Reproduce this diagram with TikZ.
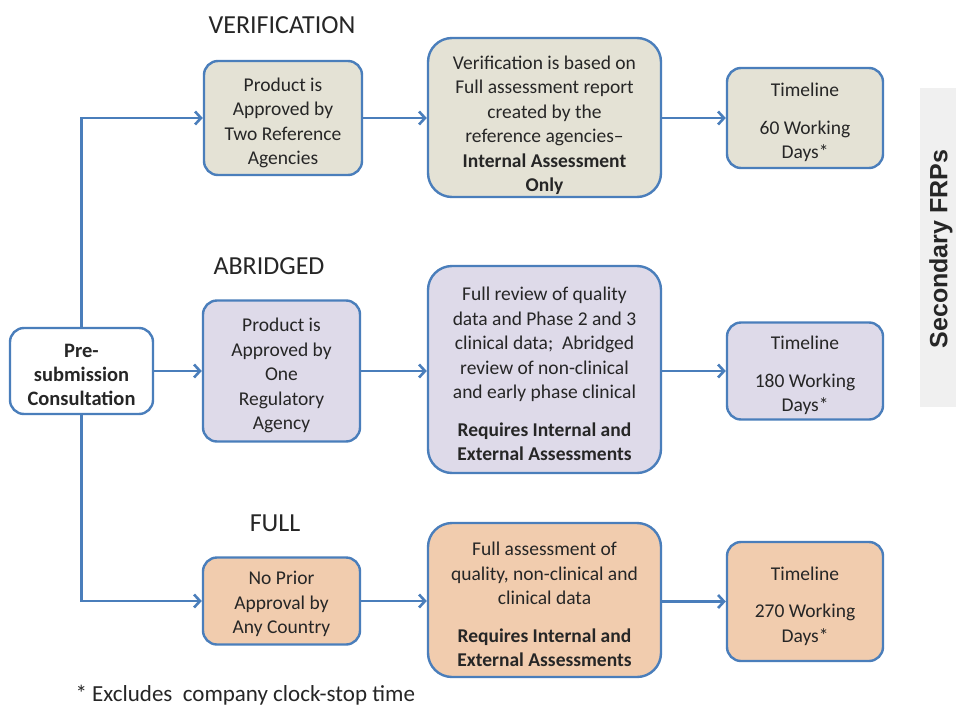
\documentclass[tikz,border=0pt]{standalone}
\usepackage{fontspec}
\setmainfont{Carlito}
\newfontfamily\arialfont{Liberation Sans}
\usetikzlibrary{arrows.meta}
\definecolor{edgeblue}{HTML}{4A7EBB}
\definecolor{txt}{HTML}{262626}
\definecolor{fillver}{HTML}{E4E2D5}
\definecolor{fillabr}{HTML}{DEDAE9}
\definecolor{fillful}{HTML}{F1CCAE}
\definecolor{bandgray}{HTML}{F0F0F0}
\newcommand{\dn}[1]{\rule{0pt}{#1}}
\tikzset{
  x=1pt, y=-1pt,
  boxbase/.style={draw=edgeblue, line width=2.4pt, align=center, text=txt,
    font=\fontsize{19.5}{24.5}\selectfont, inner sep=1pt},
  smallbox/.style={boxbase, rounded corners=14pt},
  bigbox/.style={boxbase, rounded corners=24pt},
  headlbl/.style={text=txt, font=\fontsize{26}{28}\selectfont},
  conn/.style={draw=edgeblue, line width=2.6pt},
  arr/.style={conn, -{Straight Barb[length=6pt,width=13pt,line width=2.6pt]}}
}
\begin{document}
\begin{tikzpicture}
\useasboundingbox (0,0) rectangle (956,707);
\fill[white] (0,0) rectangle (956,707);

% side band
\fill[bandgray] (920,88) rectangle (956,407);
\node[rotate=90, font=\arialfont\bfseries\fontsize{25}{28}\selectfont, text=txt] (sec) at (941,249) {Secondary FRPs};

% section labels
\node[headlbl] (hv) at (282,25) {VERIFICATION};
\node[headlbl] (ha) at (269,266) {ABRIDGED};
\node[headlbl] (hf) at (275,523) {FULL};

% pre-submission
\node[smallbox, fill=white, minimum width=143pt, minimum height=86pt, font=\bfseries\fontsize{20.5}{24}\selectfont] (pre) at (81.5,371) {\dn{21pt}Pre-\\submission\\Consultation};

% verification row
\node[smallbox, fill=fillver, minimum width=158pt, minimum height=114pt] (v1) at (283,118) {\dn{23pt}Product is\\Approved by\\Two Reference\\Agencies};
\node[bigbox, fill=fillver, minimum width=233pt, minimum height=159pt] (v2) at (544.5,117.5) {\dn{29pt}Verification is based on\\Full assessment report\\created by the\\reference agencies--\\\textbf{Internal Assessment}\\\textbf{Only}};
\node[smallbox, fill=fillver, minimum width=156pt, minimum height=100pt] (v3) at (805,118) {\dn{23pt}Timeline\\[13pt]60 Working\\Days*};

% abridged row
\node[smallbox, fill=fillabr, minimum width=157pt, minimum height=141pt] (a1) at (281.5,371) {\dn{23pt}Product is\\Approved by\\One\\Regulatory\\Agency};
\node[bigbox, fill=fillabr, minimum width=233pt, minimum height=207pt] (a2) at (544.5,369.5) {\dn{23pt}Full review of quality\\data and Phase 2 and 3\\clinical data;\ \ Abridged\\review of non-clinical\\and early phase clinical\\[13pt]\textbf{Requires Internal and}\\\textbf{External Assessments}};
\node[smallbox, fill=fillabr, minimum width=156pt, minimum height=97pt] (a3) at (805,371) {\dn{23pt}Timeline\\[13pt]180 Working\\Days*};

% full row
\node[smallbox, fill=fillful, minimum width=157pt, minimum height=87pt] (f1) at (281.5,601) {\dn{20pt}No Prior\\Approval by\\Any Country};
\node[bigbox, fill=fillful, minimum width=233pt, minimum height=154pt] (f2) at (544.5,600) {\dn{23pt}Full assessment of\\quality, non-clinical and\\clinical data\\[13pt]\textbf{Requires Internal and}\\\textbf{External Assessments}};
\node[smallbox, fill=fillful, minimum width=156pt, minimum height=119pt] (f3) at (805,601.5) {\dn{23pt}Timeline\\[13pt]270 Working\\Days*};

% connectors
\draw[arr] (pre.north) |- (v1.west);
\draw[arr] (pre.south) |- (f1.west);
\draw[arr] (pre.east) -- (a1.west);
\draw[arr] (v1.east) -- (v2.west |- v1.east);
\draw[arr] (v2.east |- v3.west) -- (v3.west);
\draw[arr] (a1.east) -- (a2.west |- a1.east);
\draw[arr] (a2.east |- a3.west) -- (a3.west);
\draw[arr] (f1.east) -- (f2.west |- f1.east);
\draw[arr] (f2.east |- f3.west) -- (f3.west);

% footnote
\node[anchor=west, text=txt, font=\fontsize{23}{26}\selectfont] (foot) at (72,695) {* Excludes\ \ company clock-stop time};
\end{tikzpicture}
\end{document}
